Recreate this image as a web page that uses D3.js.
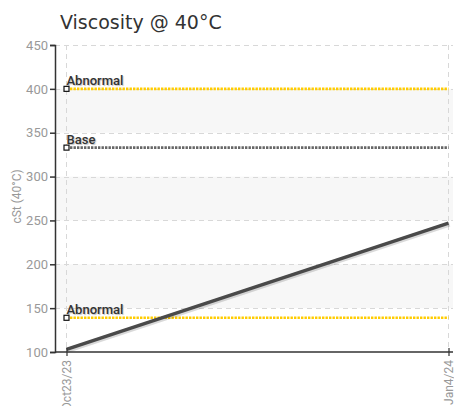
<!DOCTYPE html>
<html>
<head>
<meta charset="utf-8">
<script src="https://cdn.jsdelivr.net/npm/d3@7"></script>
<style>
  body { margin: 0; background: #fff; }
  svg { display: block; }
  .tick-lbl { font-family: Roboto, "Liberation Sans", sans-serif; font-size: 13px; fill: #999; }
  .lim-lbl { font-family: Roboto, "Liberation Sans", sans-serif; font-size: 13px; font-weight: 500; fill: #333; }
</style>
</head>
<body>
<svg id="chart"></svg>
<script>
const dates = ["2023-10-23", "2024-01-04"];
const dateLabels = ["Oct23/23", "Jan4/24"];
const viscosity = [103, 247];
const yTicks = [100, 150, 200, 250, 300, 350, 400, 450];
const limitNames = ["Abnormal", "Base", "Abnormal"];
const limitValues = [400, 333, 139];
const limitColors = ["#ffcc00", "#666666", "#ffcc00"];

const width = 454, height = 406;
const plot = { left: 55, right: 453, top: 45, bottom: 352 };

const svg = d3.select("#chart").attr("width", width).attr("height", height);

const parse = d3.timeParse("%Y-%m-%d");
const X = d3.scaleTime()
  .domain([parse(dates[0]), parse(dates[1])])
  .range([66.5, 448.5]);
const Y = d3.scaleLinear().domain([100, 450]).range([plot.bottom, plot.top]);

// alternating bands
const bands = svg.append("g");
for (let i = 1; i < yTicks.length - 1; i += 2) {
  bands.append("rect")
    .attr("x", plot.left)
    .attr("y", Y(yTicks[i + 1]))
    .attr("width", plot.right - plot.left)
    .attr("height", Y(yTicks[i]) - Y(yTicks[i + 1]))
    .attr("fill", "#f7f7f7");
}

// grid
const grid = svg.append("g")
  .attr("stroke", "#d8d8d8")
  .attr("stroke-dasharray", "5,4")
  .attr("stroke-width", 1);
grid.selectAll(".hg")
  .data(yTicks.slice(1))
  .join("line")
  .attr("x1", plot.left)
  .attr("x2", plot.right)
  .attr("y1", (d) => Math.round(Y(d)) + 0.5)
  .attr("y2", (d) => Math.round(Y(d)) + 0.5);
grid.selectAll(".vg")
  .data(dates)
  .join("line")
  .attr("x1", (d) => X(parse(d)))
  .attr("x2", (d) => X(parse(d)))
  .attr("y1", plot.top)
  .attr("y2", plot.bottom);

// limit lines
const limits = svg.append("g");
limitValues.forEach((v, i) => {
  const y = Y(v);
  limits.append("line")
    .attr("x1", X(parse(dates[0])))
    .attr("x2", X(parse(dates[1])))
    .attr("y1", y)
    .attr("y2", y)
    .attr("stroke", limitColors[i])
    .attr("stroke-width", 2.6)
    .attr("stroke-dasharray", "2.4,1.1");
  limits.append("rect")
    .attr("x", X(parse(dates[0])) - 2.5)
    .attr("y", y - 2.5)
    .attr("width", 5)
    .attr("height", 5)
    .attr("fill", "#fff")
    .attr("stroke", "#111")
    .attr("stroke-width", 1.2);
  limits.append("text")
    .attr("class", "lim-lbl")
    .attr("x", X(parse(dates[0])))
    .attr("y", y - 4)
    .style("text-shadow", "1px 1px 1px rgba(0,0,0,0.25)")
    .text(limitNames[i]);
});

// data line
const line = d3.line()
  .x((d, i) => X(parse(dates[i])))
  .y((d) => Y(d));
svg.append("path")
  .datum(viscosity)
  .attr("d", line)
  .attr("fill", "none")
  .attr("stroke", "rgba(0,0,0,0.15)")
  .attr("stroke-width", 5)
  .attr("transform", "translate(1,1)");
svg.append("path")
  .datum(viscosity)
  .attr("d", line)
  .attr("fill", "none")
  .attr("stroke", "#4a4a4a")
  .attr("stroke-width", 3.5)
  .attr("stroke-linecap", "butt");

// y axis
const yAxis = svg.append("g")
  .attr("transform", `translate(${plot.left},0)`)
  .call(d3.axisLeft(Y).tickValues(yTicks).tickSize(5).tickPadding(2).tickFormat(d3.format("d")));
yAxis.select(".domain").attr("stroke", "#333").attr("stroke-width", 1.5);
yAxis.selectAll(".tick line").attr("stroke", "#333").attr("stroke-width", 1.5);
yAxis.selectAll(".tick text").attr("class", "tick-lbl").attr("font-family", null).attr("font-size", null).attr("fill", null);

// x axis
const xAxis = svg.append("g")
  .attr("transform", `translate(0,${plot.bottom})`)
  .call(d3.axisBottom(X)
    .tickValues(dates.map(parse))
    .tickSize(4)
    .tickSizeOuter(0)
    .tickFormat((d, i) => dateLabels[i]));
xAxis.select(".domain")
  .attr("d", `M${plot.left},0H${plot.right}`)
  .attr("stroke", "#333")
  .attr("stroke-width", 1.5);
xAxis.selectAll(".tick line").attr("y1", -4).attr("stroke", "#333").attr("stroke-width", 1.2);
xAxis.selectAll(".tick text")
  .attr("class", "tick-lbl")
  .attr("font-family", null).attr("font-size", null).attr("fill", null)
  .style("font-size", "12px")
  .attr("transform", "rotate(-90)")
  .attr("x", -8)
  .attr("y", 0)
  .attr("dy", "0.35em")
  .attr("text-anchor", "end");

// axis title
svg.append("text")
  .attr("class", "tick-lbl")
  .style("font-size", "12px")
  .attr("transform", `translate(21,${(plot.top + plot.bottom) / 2 - 2}) rotate(-90)`)
  .attr("text-anchor", "middle")
  .text("cSt (40°C)");

// title
svg.append("text")
  .attr("x", 60)
  .attr("y", 29)
  .attr("font-family", "DejaVu Sans")
  .attr("font-size", 19)
  .attr("fill", "#333")
  .text("Viscosity @ 40°C");
</script>
</body>
</html>
